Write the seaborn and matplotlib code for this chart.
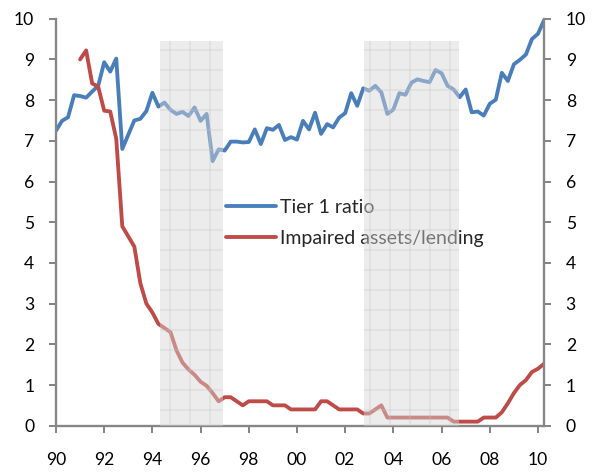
import numpy as np
import pandas as pd
import matplotlib
matplotlib.use("Agg")
import matplotlib.pyplot as plt
import seaborn as sns

# quarterly data, 1990Q1 - 2010Q2
tier1_start = "1990Q1"
tier1_ratio = [7.25, 7.49, 7.58, 8.12, 8.10, 8.06, 8.21, 8.35, 8.93, 8.70,
               9.02, 6.80, 7.15, 7.50, 7.54, 7.73, 8.18, 7.84, 7.94, 7.76,
               7.66, 7.71, 7.61, 7.82, 7.49, 7.66, 6.50, 6.79, 6.76, 6.98,
               6.98, 6.96, 6.97, 7.28, 6.92, 7.31, 7.27, 7.39, 7.02, 7.09,
               7.03, 7.49, 7.28, 7.69, 7.17, 7.41, 7.33, 7.57, 7.68, 8.17,
               7.86, 8.29, 8.23, 8.35, 8.19, 7.66, 7.77, 8.17, 8.13, 8.43,
               8.51, 8.47, 8.44, 8.74, 8.66, 8.35, 8.26, 8.07, 8.26, 7.70,
               7.72, 7.62, 7.91, 8.01, 8.67, 8.47, 8.88, 8.99, 9.12, 9.50,
               9.63, 9.96]

impaired_start = "1991Q1"
impaired_assets = [9.00, 9.22, 8.41, 8.33, 7.74, 7.72, 7.05,
                   4.90, 4.65, 4.40, 3.50, 3.00, 2.78, 2.50,
                   2.40, 2.30, 1.85, 1.55, 1.38, 1.25, 1.08, 0.98, 0.80, 0.60,
                   0.70, 0.70, 0.60, 0.50, 0.60, 0.60, 0.60, 0.60, 0.50, 0.50,
                   0.50, 0.40, 0.40, 0.40, 0.40, 0.40, 0.60, 0.60, 0.50, 0.40,
                   0.40, 0.40, 0.40, 0.30, 0.30, 0.40, 0.50, 0.20,
                   0.20, 0.20, 0.20, 0.20, 0.20, 0.20, 0.20, 0.20, 0.20, 0.20,
                   0.10, 0.10, 0.10, 0.10, 0.10,
                   0.20, 0.20, 0.20,
                   0.33, 0.55, 0.80, 1.00, 1.12, 1.32, 1.40, 1.52]

# shaded periods (start, end) in years
shaded_periods = [(1994.3, 1996.92), (2002.78, 2006.72)]
shade_top = 9.45

year_ticks = list(range(1990, 2011, 2))
y_ticks = list(range(0, 11))


def quarter_years(start, n):
    q = pd.period_range(start, periods=n, freq="Q")
    return q.year + (q.quarter - 1) / 4.0


df_t1 = pd.DataFrame({"year": quarter_years(tier1_start, len(tier1_ratio)),
                      "value": tier1_ratio})
df_imp = pd.DataFrame({"year": quarter_years(impaired_start, len(impaired_assets)),
                       "value": impaired_assets})

sns.set_style("white")
plt.rcParams["font.family"] = ["Lato", "DejaVu Sans"]
plt.rcParams["hatch.linewidth"] = 0.7

DPI = 120
fig = plt.figure(figsize=(595 / DPI, 473 / DPI), dpi=DPI)
ax = fig.add_axes([56 / 595, 1 - 425.7 / 473, 488 / 595, (425.7 - 18.7) / 473])

blue = "#4A7EBB"
red = "#BE4B48"
sns.lineplot(data=df_t1, x="year", y="value", color=blue, linewidth=2.3,
             ax=ax, label="Tier 1 ratio")
sns.lineplot(data=df_imp, x="year", y="value", color=red, linewidth=2.3,
             ax=ax, label="Impaired assets/lending")

# shaded, hatched periods drawn on top of the lines
for x0, x1 in shaded_periods:
    ax.axvspan(x0, x1, ymin=0, ymax=shade_top / 10, facecolor="#d6d6d6",
               edgecolor="#c4c4c4", hatch="+", linewidth=0, alpha=0.45,
               zorder=6)

ax.set_xlim(df_t1["year"].min(), df_t1["year"].max())
ax.set_ylim(0, 10)
ax.set_xticks(year_ticks)
ax.set_xticklabels([f"{y % 100:02d}" for y in year_ticks])
ax.set_yticks(y_ticks)
ax.set_xlabel("")
ax.set_ylabel("")

fs = 17.5 * 72 / DPI
leg_fs = 19.5 * 72 / DPI
spine_col = "#868686"
ax2 = ax.twinx()
ax2.set_ylim(0, 10)
ax2.set_yticks(y_ticks)
for a in (ax, ax2):
    a.spines["top"].set_visible(False)
    for s in ("left", "bottom", "right"):
        a.spines[s].set_color(spine_col)
        a.spines[s].set_linewidth(1.4)
    a.tick_params(length=4, width=1.2, color=spine_col, labelsize=fs,
                  labelcolor="black", direction="out")
ax.tick_params(axis="y", pad=9, left=True)
ax.tick_params(axis="x", pad=11.5, bottom=True)
ax2.tick_params(axis="y", pad=9, right=True)
ax.spines["right"].set_visible(False)
ax2.spines["left"].set_visible(False)
ax2.spines["bottom"].set_visible(False)

leg = ax.legend(loc="center left", bbox_to_anchor=(0.348, 0.498), frameon=False,
                fontsize=leg_fs, handlelength=50 / 19.5, handletextpad=0.22,
                labelspacing=0.7, borderpad=0, borderaxespad=0)
leg.set_zorder(3)

fig.savefig("out.png", dpi=DPI)
